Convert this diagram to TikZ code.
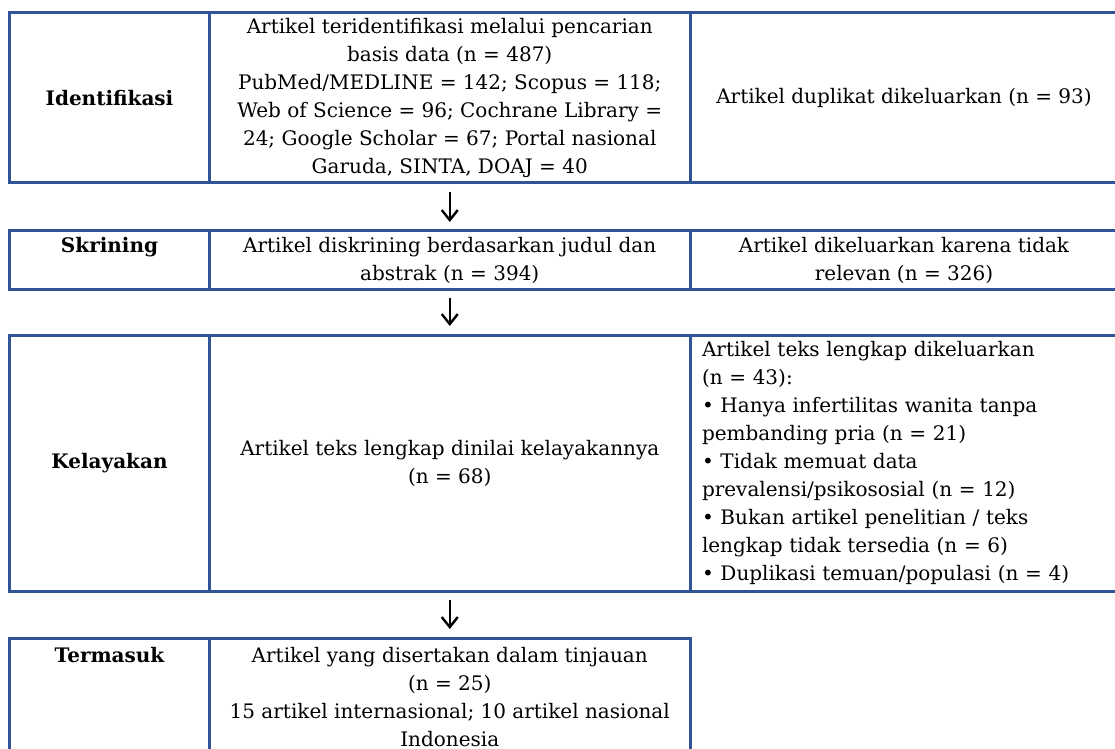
\documentclass[tikz,border=0pt]{standalone}
\usepackage{fontspec}
\setmainfont{DejaVu Serif}
\usetikzlibrary{arrows.meta, positioning}
\definecolor{frameblue}{RGB}{47,85,151}
\tikzset{
  cell/.style={draw=frameblue, line width=1.5pt, outer sep=0pt, inner xsep=6pt,
               inner ysep=1pt, align=center, font=\fontsize{10}{14}\selectfont},
  stage/.style={cell, minimum width=100pt, font=\fontsize{10}{14}\selectfont\bfseries},
  stagetxt/.style={font=\fontsize{10}{14}\selectfont\bfseries, inner sep=0pt, anchor=base},
  mid/.style={cell, minimum width=240.25pt},
  side/.style={cell, minimum width=214pt},
  flow/.style={-{Straight Barb[length=5pt, width=8pt]}, line width=1.2pt,
               shorten <=4.5pt, shorten >=4.5pt},
}

\begin{document}
\begin{tikzpicture}[node distance=24pt]
\useasboundingbox (0,0) rectangle (557.5pt,-374.5pt);

% Identifikasi
\node[stage, minimum height=85pt, anchor=north west] (idlbl) at (4.75pt,-6.5pt) {Identifikasi};
\node[mid, minimum height=85pt, right=0pt of idlbl] (ident)
  {Artikel teridentifikasi melalui pencarian\\
   basis data (n = 487)\\
   PubMed/MEDLINE = 142; Scopus = 118;\\
   Web of Science = 96; Cochrane Library =\\
   24; Google Scholar = 67; Portal nasional\\
   Garuda, SINTA, DOAJ = 40};
\node[side, minimum height=85pt, right=0pt of ident] (dup)
  {Artikel duplikat dikeluarkan (n = 93)};

% Skrining
\node[stage, minimum height=29pt, below=of idlbl] (scrlbl) {};
\node[stagetxt] (scrtxt) at ([yshift=-11pt]scrlbl.north) {Skrining};
\node[mid, minimum height=29pt, right=0pt of scrlbl] (screen)
  {Artikel diskrining berdasarkan judul dan\\
   abstrak (n = 394)};
\node[side, minimum height=29pt, right=0pt of screen] (irrel)
  {Artikel dikeluarkan karena tidak\\
   relevan (n = 326)};

% Kelayakan
\node[stage, minimum height=128pt, below=23pt of scrlbl] (eliglbl) {Kelayakan};
\node[mid, minimum height=128pt, right=0pt of eliglbl] (elig)
  {Artikel teks lengkap dinilai kelayakannya\\
   (n = 68)};
\node[side, minimum height=128pt, text width=204pt, align=left, right=0pt of elig] (fulltxt)
  {Artikel teks lengkap dikeluarkan\\
   (n = 43):\\
   • Hanya infertilitas wanita tanpa\\
   pembanding pria (n = 21)\\
   • Tidak memuat data\\
   prevalensi/psikososial (n = 12)\\
   • Bukan artikel penelitian / teks\\
   lengkap tidak tersedia (n = 6)\\
   • Duplikasi temuan/populasi (n = 4)};

% Termasuk
\node[stage, minimum height=59pt, below=23.5pt of eliglbl] (incllbl) {};
\node[stagetxt] (incltxt) at ([yshift=-12.3pt]incllbl.north) {Termasuk};
\node[mid, minimum height=59pt, right=0pt of incllbl] (incl)
  {Artikel yang disertakan dalam tinjauan\\
   (n = 25)\\
   15 artikel internasional; 10 artikel nasional\\
   Indonesia};

\foreach \a/\b in {ident/screen, screen/elig, elig/incl}
  \draw[flow] (\a) -- (\b);

\end{tikzpicture}
\end{document}
